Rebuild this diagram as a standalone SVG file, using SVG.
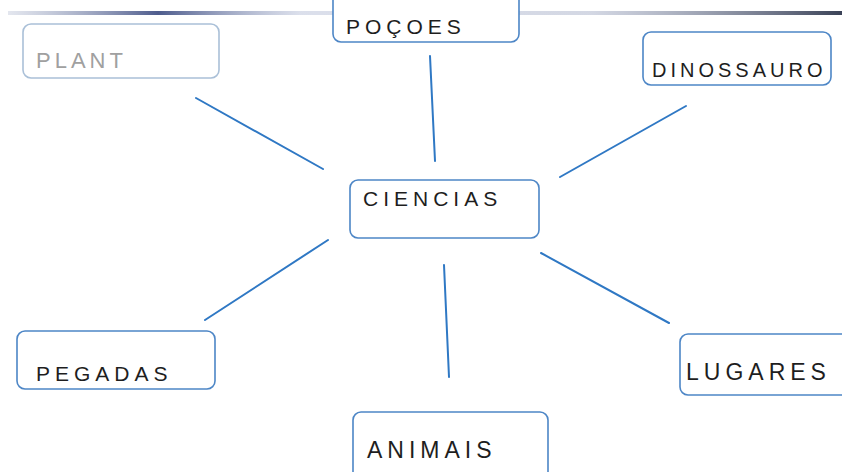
<svg xmlns="http://www.w3.org/2000/svg" width="842" height="472" viewBox="0 0 842 472">
<defs>
<style>
.box{fill:#fff;stroke:#4d86c6;stroke-width:1.6}
.faint{stroke:#aac0d8}
.lbl{font-family:"Liberation Sans",Arial,sans-serif;font-size:21px;fill:#1e1e1e;letter-spacing:5px}
.conn line{stroke:#2f78c4;stroke-width:2;stroke-linecap:round}
</style>
<linearGradient id="shade" x1="0" y1="0" x2="1" y2="0">
<stop offset="0" stop-color="#c8cede" stop-opacity="0.5"/>
<stop offset="0.18" stop-color="#3a4a80" stop-opacity="0.9"/>
<stop offset="0.35" stop-color="#b8c0d8" stop-opacity="0.5"/>
<stop offset="0.7" stop-color="#a8b0c8" stop-opacity="0.5"/>
<stop offset="1" stop-color="#30384e" stop-opacity="0.95"/>
</linearGradient>
</defs>
<rect width="842" height="472" fill="#fff"/>
<rect x="8" y="11" width="834" height="4" fill="url(#shade)"/>
<g class="conn">
<line x1="196" y1="98" x2="323" y2="169"/>
<line x1="430" y1="56" x2="435" y2="161"/>
<line x1="686" y1="106" x2="560" y2="177"/>
<line x1="328" y1="240" x2="205" y2="320"/>
<line x1="444" y1="265" x2="449" y2="377"/>
<line x1="541" y1="253" x2="669" y2="323"/>
</g>
<g id="plantas">
<rect class="box faint" x="23" y="24" width="196" height="54" rx="8"/>
<text class="lbl" x="36" y="68" style="fill:#a0a0a0;font-size:22px;letter-spacing:4px">PLANT</text>
</g>
<g id="pocoes">
<rect class="box" x="333" y="-10" width="186" height="52" rx="8"/>
<text class="lbl" x="346" y="34">POÇOES</text>
</g>
<g id="dinossauro">
<rect class="box" x="643" y="32" width="188" height="53" rx="8"/>
<text class="lbl" x="652" y="77" style="font-size:20px;letter-spacing:4px">DINOSSAURO</text>
</g>
<g id="ciencias">
<rect class="box" x="350" y="180" width="189" height="58" rx="8"/>
<text class="lbl" x="363" y="206">CIENCIAS</text>
</g>
<g id="pegadas">
<rect class="box" x="17" y="331" width="198" height="58" rx="8"/>
<text class="lbl" x="36" y="381">PEGADAS</text>
</g>
<g id="animais">
<rect class="box" x="353" y="412" width="195" height="70" rx="8"/>
<text class="lbl" x="367" y="458" style="font-size:23px">ANIMAIS</text>
</g>
<g id="lugares">
<rect class="box" x="680" y="334" width="172" height="61" rx="8"/>
<text class="lbl" x="686" y="380" style="font-size:23px">LUGARES</text>
</g>
</svg>
